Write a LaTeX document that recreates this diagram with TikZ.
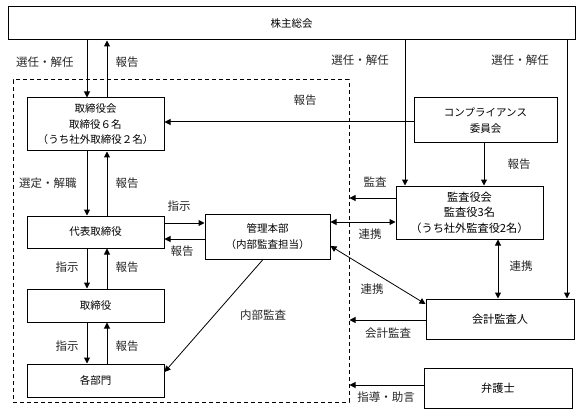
\documentclass[tikz,border=0pt]{standalone}
\usepackage{fontspec}
\setmainfont{Noto Sans CJK JP}
\usetikzlibrary{arrows.meta}
\begin{document}
\begin{tikzpicture}[x=1pt,y=-1pt,
  box/.style={draw, line width=1pt, rectangle, inner sep=0pt, align=center, font=\fontsize{10.5}{15.5}\selectfont},
  bigbox/.style={box, font=\fontsize{11.2}{15.5}\selectfont},
  lbl/.style={font=\fontsize{11.5}{13}\selectfont, inner sep=0pt, text=black!85},
  arr/.style={line width=1pt, -{Triangle[length=6pt,width=6pt]}},
  darr/.style={line width=1pt, {Triangle[length=6pt,width=6pt]}-{Triangle[length=6pt,width=6pt]}},
  grpbox/.style={draw, line width=1pt, dash pattern=on 4pt off 3pt, rectangle, inner sep=0pt}]
\useasboundingbox (0,0) rectangle (581,417);
% group
\node[grpbox, minimum width=336pt, minimum height=322pt] (grp) at (181,241) {};
% boxes
\node[box, minimum width=567pt, minimum height=33pt] (sh) at (291.5,23.5) {株主総会};
\node[box, minimum width=137pt, minimum height=53pt] (bd) at (95.5,124.5) {取締役会\\取締役６名\\（うち社外取締役２名）};
\node[box, minimum width=143pt, minimum height=45pt] (cc) at (485.5,120.5) {コンプライアンス\\委員会};
\node[bigbox, minimum width=147pt, minimum height=53pt] (au) at (469.5,212.5) {監査役会\\監査役3名\\（うち社外監査役2名）};
\node[box, minimum width=137pt, minimum height=32pt] (rep) at (95.5,232) {代表取締役};
\node[box, minimum width=125pt, minimum height=45pt] (mg) at (267.5,236.5) {管理本部\\（内部監査担当）};
\node[box, minimum width=137pt, minimum height=33pt] (dir) at (95.5,305.5) {取締役};
\node[box, minimum width=137pt, minimum height=33pt] (dep) at (95.5,380.5) {各部門};
\node[bigbox, minimum width=148pt, minimum height=40pt] (ac) at (500,319) {会計監査人};
\node[bigbox, minimum width=148pt, minimum height=40pt] (law) at (498,388) {弁護士};
% vertical chain
\draw[arr] (87,0 |- sh.south) -- (87,0 |- bd.north);
\draw[arr] (107,0 |- bd.north) -- (107,0 |- sh.south);
\draw[arr] (87,0 |- bd.south) -- (87,0 |- rep.north);
\draw[arr] (107,0 |- rep.north) -- (107,0 |- bd.south);
\draw[arr] (87,0 |- rep.south) -- (87,0 |- dir.north);
\draw[arr] (107,0 |- dir.north) -- (107,0 |- rep.south);
\draw[arr] (87,0 |- dir.south) -- (87,0 |- dep.north);
\draw[arr] (107,0 |- dep.north) -- (107,0 |- dir.south);
% rep <-> mg
\draw[arr] (rep.east |- 0,223) -- (mg.west |- 0,223);
\draw[arr] (mg.west |- 0,239) -- (rep.east |- 0,239);
% internal audit
\draw[arr, line width=0.8pt] (263,0 |- mg.south) -- (dep.east |- 0,372);
% compliance -> board
\draw[arr] (cc.west |- 0,122) -- (bd.east |- 0,122);
% shareholders -> auditors, accountant
\draw[arr] (405,0 |- sh.south) -- (405,0 |- au.north);
\draw[arr] (567,0 |- sh.south) -- (567,0 |- ac.north);
% compliance -> audit board
\draw[arr] (484,0 |- cc.south) -- (484,0 |- au.north);
% audit board -> group
\draw[arr] (au.west |- 0,198) -- (grp.east |- 0,198);
\draw[darr] (mg.east |- 0,222) -- (au.west |- 0,222);
\draw[darr, line width=0.8pt] (mg.east |- 0,246) -- (ac.west |- 0,304);
\draw[darr] (498,0 |- au.south) -- (498,0 |- ac.north);
\draw[arr] (ac.west |- 0,320) -- (grp.east |- 0,320);
\draw[arr] (law.west |- 0,385) -- (grp.east |- 0,385);
% labels
\node[lbl] (l1) at (45,62) {選任・解任};
\node[lbl] (l2) at (127,62) {報告};
\node[lbl] (l3) at (305,100) {報告};
\node[lbl] (l4) at (360,60) {選任・解任};
\node[lbl] (l5) at (520,60) {選任・解任};
\node[lbl] (l6) at (48,183) {選定・解職};
\node[lbl] (l7) at (127,183) {報告};
\node[lbl] (l8) at (179,206) {指示};
\node[lbl] (l9) at (182,251) {報告};
\node[lbl] (l10) at (67,267) {指示};
\node[lbl] (l11) at (127,267) {報告};
\node[lbl] (l12) at (67,346) {指示};
\node[lbl] (l13) at (127,346) {報告};
\node[lbl] (l14) at (263,315) {内部監査};
\node[lbl] (l15) at (375,182) {監査};
\node[lbl] (l16) at (370,234) {連携};
\node[lbl] (l17) at (519,164) {報告};
\node[lbl] (l18) at (521,266) {連携};
\node[lbl] (l19) at (372,289) {連携};
\node[lbl] (l20) at (388,333) {会計監査};
\node[lbl] (l21) at (386,397) {指導・助言};
\end{tikzpicture}
\end{document}
